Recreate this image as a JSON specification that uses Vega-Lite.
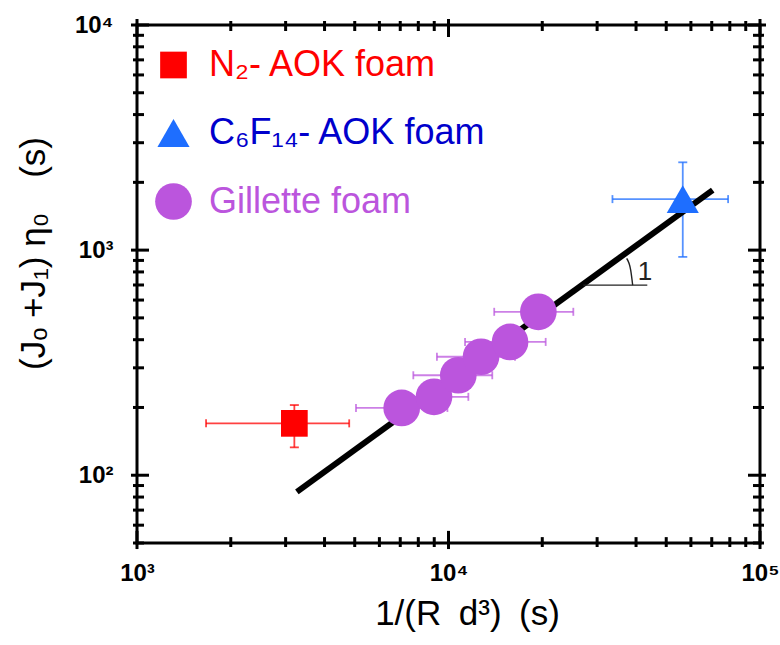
{
  "$schema": "https://vega.github.io/schema/vega-lite/v6.json",
  "width": 623,
  "height": 518,
  "autosize": "none",
  "padding": {"left": 137, "top": 25, "right": 20, "bottom": 102},
  "background": "white",
  "config": {
    "view": {"stroke": "black", "strokeWidth": 3},
    "axis": {
      "domain": false,
      "grid": false,
      "ticks": false,
      "labelFont": "Liberation Sans",
      "labelFontWeight": "bold",
      "labelFontSize": 24,
      "labelColor": "black",
      "labelFlush": false,
      "labelOverlap": false,
      "labelBound": false,
      "titleFont": "Liberation Sans",
      "titleFontWeight": "normal",
      "titleFontSize": 35,
      "titleColor": "black"
    }
  },
  "datasets": {
    "pts": [
      {"series": "N₂- AOK foam", "x": 3200, "y": 170, "xlo": 1666, "xhi": 4800, "ylo": 133, "yhi": 205},
      {"series": "C₆F₁₄- AOK foam", "x": 56500, "y": 1685, "xlo": 33600, "xhi": 79000, "ylo": 933, "yhi": 2455},
      {"series": "Gillette foam", "x": 7076, "y": 199, "xlo": 5047, "xhi": 9920, "ylo": null, "yhi": null},
      {"series": "Gillette foam", "x": 8984, "y": 223, "xlo": 6785, "xhi": 11580, "ylo": null, "yhi": null},
      {"series": "Gillette foam", "x": 10750, "y": 278, "xlo": 7710, "xhi": 13820, "ylo": null, "yhi": null},
      {"series": "Gillette foam", "x": 12720, "y": 336, "xlo": 9180, "xhi": 16350, "ylo": null, "yhi": null},
      {"series": "Gillette foam", "x": 15760, "y": 391, "xlo": 11300, "xhi": 20510, "ylo": null, "yhi": null},
      {"series": "Gillette foam", "x": 19430, "y": 532, "xlo": 14020, "xhi": 25160, "ylo": null, "yhi": null}
    ],
    "fit": [
      {"x": 3260, "y": 84.3},
      {"x": 70500, "y": 1848}
    ],
    "slopeH": [
      {"x": 27090, "y": 699},
      {"x": 43470, "y": 699}
    ],
    "slopeArc": [
      {"x": 37340, "y": 918, "o": 1},
      {"x": 38450, "y": 815, "o": 2},
      {"x": 39020, "y": 699, "o": 3}
    ],
    "slopeLabel": [
      {"x": 42730, "y": 735, "t": "1"}
    ],
    "tickmarks": [
      {"v": 1000, "kind": "major"}, {"v": 2000, "kind": "minor"}, {"v": 3000, "kind": "minor"}, {"v": 4000, "kind": "minor"},
      {"v": 5000, "kind": "minor"}, {"v": 6000, "kind": "minor"}, {"v": 7000, "kind": "minor"}, {"v": 8000, "kind": "minor"},
      {"v": 9000, "kind": "minor"}, {"v": 10000, "kind": "major"}, {"v": 20000, "kind": "minor"}, {"v": 30000, "kind": "minor"},
      {"v": 40000, "kind": "minor"}, {"v": 50000, "kind": "minor"}, {"v": 60000, "kind": "minor"}, {"v": 70000, "kind": "minor"},
      {"v": 80000, "kind": "minor"}, {"v": 90000, "kind": "minor"}, {"v": 100000, "kind": "major"}
    ],
    "ytickmarks": [
      {"v": 50, "kind": "minor"}, {"v": 60, "kind": "minor"}, {"v": 70, "kind": "minor"}, {"v": 80, "kind": "minor"}, {"v": 90, "kind": "minor"},
      {"v": 100, "kind": "major"}, {"v": 200, "kind": "minor"}, {"v": 300, "kind": "minor"}, {"v": 400, "kind": "minor"}, {"v": 500, "kind": "minor"},
      {"v": 600, "kind": "minor"}, {"v": 700, "kind": "minor"}, {"v": 800, "kind": "minor"}, {"v": 900, "kind": "minor"},
      {"v": 1000, "kind": "major"}, {"v": 2000, "kind": "minor"}, {"v": 3000, "kind": "minor"}, {"v": 4000, "kind": "minor"}, {"v": 5000, "kind": "minor"},
      {"v": 6000, "kind": "minor"}, {"v": 7000, "kind": "minor"}, {"v": 8000, "kind": "minor"}, {"v": 9000, "kind": "minor"},
      {"v": 10000, "kind": "major"}
    ]
  },
  "layer": [
    {
      "data": {"name": "pts"},
      "mark": {"type": "errorbar", "ticks": {"size": 8, "thickness": 1.8}, "rule": {"strokeWidth": 1.8}, "opacity": 0.75},
      "encoding": {
        "x": {"field": "xlo", "type": "quantitative", "title": "1/(R\u2002d³)\u2002(s)",
          "scale": {"type": "log", "domain": [1000, 100000], "nice": false},
          "axis": {
            "orient": "bottom",
            "values": [1000, 10000, 100000],
            "labelExpr": "datum.value==1000?'10³':datum.value==10000?'10⁴':'10⁵'",
            "labelBaseline": "top",
            "labelPadding": 18,
            "titleX": 330, "titleY": 81, "titleAlign": "center", "titleBaseline": "alphabetic"
          }},
        "x2": {"field": "xhi"},
        "y": {"field": "y", "type": "quantitative", "title": "(Jₒ +J₁) η₀\u2003(s)",
          "scale": {"type": "log", "domain": [50, 10000], "nice": false},
          "axis": {
            "orient": "left",
            "values": [100, 1000, 10000],
            "labelExpr": "datum.value==100?'10²':datum.value==1000?'10³':'10⁴'",
            "labelAlign": "right",
            "labelBaseline": "middle",
            "labelPadding": 24,
            "titleX": -93, "titleY": 228, "titleAngle": -90, "titleAlign": "center", "titleBaseline": "alphabetic"
          }},
        "color": {"field": "series", "type": "nominal", "scale": {"domain": ["N₂- AOK foam", "C₆F₁₄- AOK foam", "Gillette foam"], "range": ["#ff0000", "#1e6eff", "#bb55dd"]}}
      }
    },
    {
      "data": {"name": "pts"},
      "transform": [{"filter": "datum.ylo != null"}],
      "mark": {"type": "errorbar", "ticks": {"size": 9, "thickness": 1.8}, "rule": {"strokeWidth": 1.8}, "opacity": 0.75},
      "encoding": {
        "y": {"field": "ylo", "type": "quantitative", "title": "(Jₒ +J₁) η₀\u2003(s)"},
        "y2": {"field": "yhi"},
        "x": {"field": "x", "type": "quantitative", "title": "1/(R\u2002d³)\u2002(s)"},
        "color": {"field": "series", "type": "nominal"}
      }
    },
    {
      "data": {"name": "fit"},
      "mark": {"type": "line", "color": "black", "strokeWidth": 6, "strokeCap": "butt"},
      "encoding": {
        "x": {"field": "x", "type": "quantitative", "title": "1/(R\u2002d³)\u2002(s)"},
        "y": {"field": "y", "type": "quantitative", "title": "(Jₒ +J₁) η₀\u2003(s)"}
      }
    },
    {
      "data": {"name": "slopeH"},
      "mark": {"type": "line", "color": "#222222", "strokeWidth": 1.4},
      "encoding": {
        "x": {"field": "x", "type": "quantitative", "title": "1/(R\u2002d³)\u2002(s)"},
        "y": {"field": "y", "type": "quantitative", "title": "(Jₒ +J₁) η₀\u2003(s)"}
      }
    },
    {
      "data": {"name": "slopeArc"},
      "mark": {"type": "line", "color": "#222222", "strokeWidth": 1.4, "interpolate": "monotone"},
      "encoding": {
        "x": {"field": "x", "type": "quantitative", "title": "1/(R\u2002d³)\u2002(s)"},
        "y": {"field": "y", "type": "quantitative", "title": "(Jₒ +J₁) η₀\u2003(s)"},
        "order": {"field": "o"}
      }
    },
    {
      "data": {"name": "slopeLabel"},
      "mark": {"type": "text", "font": "Liberation Sans", "fontSize": 26, "color": "#222222", "align": "center", "baseline": "alphabetic"},
      "encoding": {
        "x": {"field": "x", "type": "quantitative", "title": "1/(R\u2002d³)\u2002(s)"},
        "y": {"field": "y", "type": "quantitative", "title": "(Jₒ +J₁) η₀\u2003(s)"},
        "text": {"field": "t"}
      }
    },
    {
      "data": {"name": "pts"},
      "mark": {"type": "point", "filled": true, "opacity": 1},
      "encoding": {
        "x": {"field": "x", "type": "quantitative", "title": "1/(R\u2002d³)\u2002(s)"},
        "y": {"field": "y", "type": "quantitative", "title": "(Jₒ +J₁) η₀\u2003(s)"},
        "color": {"field": "series", "type": "nominal", "legend": {
          "title": null,
          "orient": "none",
          "legendX": 18,
          "legendY": 22,
          "padding": 0,
          "labelFont": "Liberation Sans",
          "labelFontSize": 36,
          "labelOffset": 17,
          "labelLimit": 400,
          "rowPadding": 32,
          "symbolSize": 800,
          "symbolOpacity": 1,
          "symbolStrokeWidth": 0,
          "encode": {
            "labels": {"update": {"fill": {"signal": "datum.value=='Gillette foam' ? '#bb55dd' : datum.value=='N₂- AOK foam' ? '#ff0000' : '#0000cc'"}}},
            "symbols": {"update": {"size": {"signal": "datum.value=='Gillette foam' ? 580 : datum.value=='N₂- AOK foam' ? 530 : 820"}}}
          }
        }},
        "shape": {"field": "series", "type": "nominal", "scale": {"domain": ["N₂- AOK foam", "C₆F₁₄- AOK foam", "Gillette foam"], "range": ["square", "triangle-up", "circle"]}},
        "size": {"field": "series", "type": "nominal", "scale": {"domain": ["N₂- AOK foam", "C₆F₁₄- AOK foam", "Gillette foam"], "range": [713, 1347, 755]}, "legend": null}
      }
    },
    {
      "data": {"name": "tickmarks"},
      "transform": [{"filter": "datum.kind == 'major'"}],
      "mark": {"type": "rule", "strokeWidth": 3, "color": "black"},
      "encoding": {
        "x": {"field": "v", "type": "quantitative", "title": "1/(R\u2002d³)\u2002(s)"},
        "y": {"datum": 47.0, "type": "quantitative"},
        "y2": {"datum": 56.6}
      }
    },
    {
      "data": {"name": "tickmarks"},
      "transform": [{"filter": "datum.kind == 'minor'"}],
      "mark": {"type": "rule", "strokeWidth": 3, "color": "black"},
      "encoding": {
        "x": {"field": "v", "type": "quantitative", "title": "1/(R\u2002d³)\u2002(s)"},
        "y": {"datum": 48.0, "type": "quantitative"},
        "y2": {"datum": 53.1}
      }
    },
    {
      "data": {"name": "tickmarks"},
      "transform": [{"filter": "datum.kind == 'major'"}],
      "mark": {"type": "rule", "strokeWidth": 3, "color": "black"},
      "encoding": {
        "x": {"field": "v", "type": "quantitative", "title": "1/(R\u2002d³)\u2002(s)"},
        "y": {"datum": 10633, "type": "quantitative"},
        "y2": {"datum": 8843}
      }
    },
    {
      "data": {"name": "tickmarks"},
      "transform": [{"filter": "datum.kind == 'minor'"}],
      "mark": {"type": "rule", "strokeWidth": 3, "color": "black"},
      "encoding": {
        "x": {"field": "v", "type": "quantitative", "title": "1/(R\u2002d³)\u2002(s)"},
        "y": {"datum": 10418, "type": "quantitative"},
        "y2": {"datum": 9405}
      }
    },
    {
      "data": {"name": "ytickmarks"},
      "transform": [{"filter": "datum.kind == 'major'"}],
      "mark": {"type": "rule", "strokeWidth": 3, "color": "black"},
      "encoding": {
        "y": {"field": "v", "type": "quantitative", "title": "(Jₒ +J₁) η₀\u2003(s)"},
        "x": {"datum": 956.7, "type": "quantitative"},
        "x2": {"datum": 1093}
      }
    },
    {
      "data": {"name": "ytickmarks"},
      "transform": [{"filter": "datum.kind == 'minor'"}],
      "mark": {"type": "rule", "strokeWidth": 3, "color": "black"},
      "encoding": {
        "y": {"field": "v", "type": "quantitative", "title": "(Jₒ +J₁) η₀\u2003(s)"},
        "x": {"datum": 970.9, "type": "quantitative"},
        "x2": {"datum": 1053}
      }
    },
    {
      "data": {"name": "ytickmarks"},
      "transform": [{"filter": "datum.kind == 'major'"}],
      "mark": {"type": "rule", "strokeWidth": 3, "color": "black"},
      "encoding": {
        "y": {"field": "v", "type": "quantitative", "title": "(Jₒ +J₁) η₀\u2003(s)"},
        "x": {"datum": 104530, "type": "quantitative"},
        "x2": {"datum": 91500}
      }
    },
    {
      "data": {"name": "ytickmarks"},
      "transform": [{"filter": "datum.kind == 'minor'"}],
      "mark": {"type": "rule", "strokeWidth": 3, "color": "black"},
      "encoding": {
        "y": {"field": "v", "type": "quantitative", "title": "(Jₒ +J₁) η₀\u2003(s)"},
        "x": {"datum": 103000, "type": "quantitative"},
        "x2": {"datum": 94960}
      }
    }
  ]
}
